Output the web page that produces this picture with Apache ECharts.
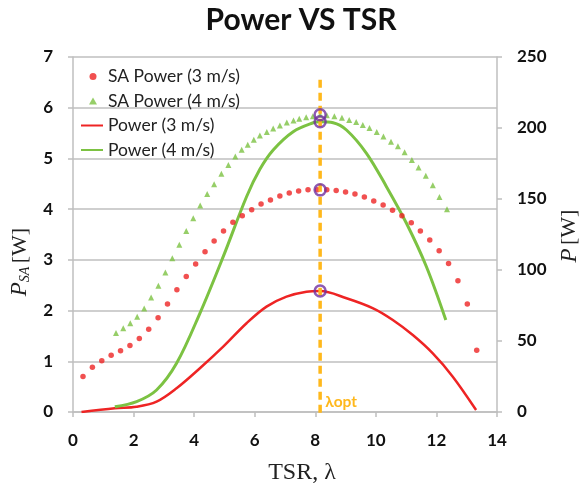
<!DOCTYPE html>
<html><head><meta charset="utf-8">
<script src="https://cdn.jsdelivr.net/npm/echarts@6/dist/echarts.min.js"></script>
<style>html,body{margin:0;padding:0;background:#fff}#c{width:584px;height:491px}</style>
</head><body><div id="c"></div>
<script>
// ---- data ----
const saPower3X = [0.33,0.64,0.95,1.26,1.57,1.88,2.19,2.50,2.81,3.12,3.43,3.74,4.05,4.36,4.66,4.97,5.28,5.59,5.90,6.21,6.52,6.83,7.14,7.45,7.76,8.07,8.38,8.69,9.00,9.31,9.62,9.93,10.24,10.55,10.86,11.17,11.47,11.78,12.09,12.40,12.71,13.02,13.33];
const saPower3Y = [0.70,0.88,1.01,1.12,1.21,1.31,1.45,1.63,1.86,2.13,2.41,2.67,2.92,3.16,3.37,3.57,3.74,3.87,3.99,4.10,4.18,4.26,4.32,4.36,4.38,4.38,4.38,4.37,4.34,4.30,4.24,4.16,4.08,3.98,3.87,3.73,3.57,3.39,3.18,2.93,2.59,2.13,1.22];
const saPower4X = [1.42,1.66,1.89,2.12,2.35,2.58,2.82,3.05,3.28,3.51,3.74,3.97,4.20,4.43,4.66,4.90,5.13,5.36,5.57,5.77,5.97,6.17,6.40,6.61,6.83,7.06,7.28,7.47,7.70,7.92,8.16,8.38,8.63,8.88,9.12,9.35,9.57,9.79,10.03,10.25,10.50,10.73,10.95,11.19,11.41,11.65,11.88,12.10,12.35];
const saPower4Y = [1.56,1.65,1.75,1.88,2.04,2.26,2.49,2.75,3.03,3.30,3.57,3.82,4.07,4.30,4.49,4.70,4.87,5.04,5.17,5.27,5.37,5.45,5.52,5.59,5.65,5.71,5.75,5.78,5.81,5.83,5.86,5.85,5.83,5.80,5.76,5.72,5.66,5.60,5.52,5.43,5.33,5.24,5.12,4.97,4.82,4.66,4.47,4.24,4.00];
const power3X = [0.28,1.38,2.10,2.76,3.42,4.19,4.96,5.73,6.39,7.05,7.71,8.16,9.03,9.91,10.56,11.22,11.88,12.54,13.31];
const power3Y = [0,2.6,3.7,7.3,16.7,30.8,46.0,62.5,74.2,81.2,84.7,85.2,80.1,73.0,64.8,54.2,41.3,24.9,1.4];
const power4X = [1.38,2.10,2.76,3.42,4.19,4.96,5.73,6.17,6.61,7.27,7.93,8.16,8.59,9.03,9.69,10.35,11.01,11.67,12.31];
const power4Y = [3.7,7.3,15.5,34.3,69.5,109.4,151.6,170.9,184.5,197.4,203.7,204.4,203.7,198.6,182.2,158.7,132.9,102.3,64.8];
const lambdaOpt = 8.16;
const optLeftY = [5.86, 4.38];
const optRightY = [204.4, 85.2];
const seriesNames = ['SA Power (3 m/s)','SA Power (4 m/s)','Power (3 m/s)','Power (4 m/s)'];

const pairs = (xs, ys) => xs.map((x, i) => [x, ys[i]]);
const RED = '#ee2424', GREEN = '#7cc242', GRID = '#bfbfbf', OPT = '#ffb81c', PURPLE = '#7030a0';
const tickFont = {fontFamily: 'Lato', fontWeight: 'bold', fontSize: 17, color: '#111'};
const legendText = {fontFamily: 'Lato', fontSize: 17.5, color: '#222', lineHeight: 19};

const chart = echarts.init(document.getElementById('c'), null, {renderer: 'canvas'});
chart.setOption({
  animation: false,
  title: {text: 'Power VS TSR', left: 296, textAlign: 'center', top: 0,
    textStyle: {fontFamily: 'Lato', fontWeight: 'bold', fontSize: 30, color: '#111'}},
  grid: {left: 73, right: 87, top: 57, bottom: 79, containLabel: false},
  legend: [
    {data: seriesNames.slice(0, 2), orient: 'vertical', left: 89, top: 67, padding: 0,
      itemWidth: 8, itemHeight: 7, itemGap: 5.5,
      textStyle: Object.assign({padding: [0, 0, 0, 6]}, legendText)},
    {data: seriesNames.slice(2).map(n => ({name: n, itemStyle: {opacity: 0}})),
      orient: 'vertical', left: 80, top: 116, padding: 0, itemWidth: 22, itemHeight: 7,
      itemGap: 5.5, textStyle: legendText}
  ],
  xAxis: {type: 'value', min: 0, max: 14, interval: 2,
    axisLine: {lineStyle: {color: GRID, width: 1.5}},
    axisTick: {show: true, inside: false, length: 5, lineStyle: {color: GRID, width: 1.5}},
    splitLine: {show: false},
    axisLabel: Object.assign({margin: 20}, tickFont)},
  yAxis: [
    {type: 'value', min: 0, max: 7, interval: 1, alignTicks: false,
      axisLine: {show: true, lineStyle: {color: GRID, width: 1.5}},
      axisTick: {show: true, inside: false, length: 5, lineStyle: {color: GRID, width: 1.5}},
      splitLine: {show: true, lineStyle: {color: GRID, width: 1.5}},
      axisLabel: Object.assign({margin: 20}, tickFont)},
    {type: 'value', min: 0, max: 250, interval: 50, alignTicks: false, position: 'right',
      axisLine: {show: true, lineStyle: {color: GRID, width: 1.5}},
      axisTick: {show: true, inside: false, length: 5, lineStyle: {color: GRID, width: 1.5}},
      splitLine: {show: false},
      axisLabel: Object.assign({margin: 20}, tickFont)}
  ],
  series: [
    {name: seriesNames[0], type: 'scatter', yAxisIndex: 0, symbol: 'circle', symbolSize: 5.5,
      itemStyle: {color: RED}, data: pairs(saPower3X, saPower3Y), z: 3},
    {name: seriesNames[1], type: 'scatter', yAxisIndex: 0, symbol: 'triangle', symbolSize: 6,
      itemStyle: {color: GREEN}, data: pairs(saPower4X, saPower4Y), z: 3},
    {name: seriesNames[2], type: 'line', yAxisIndex: 1, symbol: 'none', smooth: 0.35,
      lineStyle: {color: RED, width: 2.5}, itemStyle: {color: RED}, data: pairs(power3X, power3Y), z: 2},
    {name: seriesNames[3], type: 'line', yAxisIndex: 1, symbol: 'none', smooth: 0.35,
      lineStyle: {color: GREEN, width: 3}, itemStyle: {color: GREEN}, data: pairs(power4X, power4Y), z: 2},
    {name: 'optL', type: 'scatter', yAxisIndex: 0, symbol: 'circle', symbolSize: 11,
      itemStyle: {color: 'rgba(0,0,0,0)', borderColor: PURPLE, borderWidth: 2.5},
      data: optLeftY.map(v => [lambdaOpt, v]), z: 10},
    {name: 'optR', type: 'scatter', yAxisIndex: 1, symbol: 'circle', symbolSize: 11,
      itemStyle: {color: 'rgba(0,0,0,0)', borderColor: PURPLE, borderWidth: 2.5},
      data: optRightY.map(v => [lambdaOpt, v]), z: 10}
  ]
});

// optimum TSR dashed line, placed through the axes' scales
const pTop = chart.convertToPixel({xAxisIndex: 0, yAxisIndex: 0}, [lambdaOpt, 6.55]);
const pBot = chart.convertToPixel({xAxisIndex: 0, yAxisIndex: 0}, [lambdaOpt, -0.1]);
chart.setOption({
  graphic: [
    {type: 'line', z: 5, shape: {x1: pTop[0], y1: pTop[1], x2: pBot[0], y2: pBot[1]},
      style: {stroke: OPT, lineWidth: 3.5, lineDash: [8, 5]}},
    {type: 'text', z: 5, x: pTop[0] + 5, y: pBot[1] - 23,
      style: {text: 'λopt', fill: OPT, font: 'bold 15.5px Lato'}},
    {type: 'text', x: 302, y: 461,
      style: {text: 'TSR, λ', fill: '#222', font: '24px "Liberation Serif"', align: 'center'}},
    {type: 'text', x: 8, y: 262, rotation: Math.PI / 2,
      style: {text: '{i|P}{s|SA} {n|[W]}', align: 'center', verticalAlign: 'top',
        rich: {i: {fontFamily: 'Liberation Serif', fontStyle: 'italic', fontSize: 23, fill: '#222'},
               s: {fontFamily: 'Liberation Serif', fontStyle: 'italic', fontSize: 14, fill: '#222', padding: [10, 0, 0, 0]},
               n: {fontFamily: 'Liberation Serif', fontSize: 22, fill: '#222'}}}},
    {type: 'text', x: 558, y: 236, rotation: Math.PI / 2,
      style: {text: '{i|P} {n|[W]}', align: 'center', verticalAlign: 'top',
        rich: {i: {fontFamily: 'Liberation Serif', fontStyle: 'italic', fontSize: 23, fill: '#222'},
               n: {fontFamily: 'Liberation Serif', fontSize: 22, fill: '#222'}}}}
  ]
});
</script></body></html>
